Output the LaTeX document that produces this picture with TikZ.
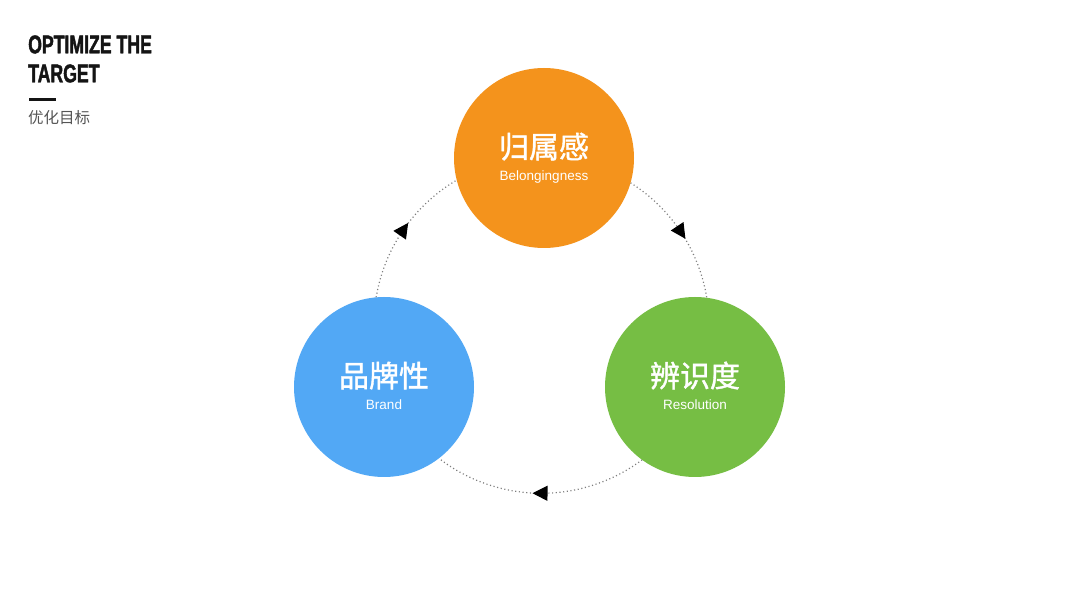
\documentclass[tikz,border=0pt]{standalone}
\usepackage{fontspec}
\setmainfont{Liberation Sans}
\newfontfamily\cjk{Noto Sans CJK SC}
\newfontfamily\cjkmed[FakeBold=1.3]{Noto Sans CJK SC}
\newfontfamily\titlefont[FakeStretch=0.69,FakeBold=1.6]{Liberation Sans Bold}
\usetikzlibrary{arrows.meta,decorations.markings,backgrounds}
\definecolor{cOrange}{RGB}{244,147,28}
\definecolor{cBlue}{RGB}{82,168,245}
\definecolor{cGreen}{RGB}{118,190,68}
\definecolor{cTitle}{RGB}{20,20,20}
\definecolor{cSub}{RGB}{85,85,85}
\definecolor{cDot}{RGB}{125,125,125}
\tikzset{
  bubble/.style={circle, minimum size=180pt, inner sep=0pt, outer sep=0pt, draw=none},
  zh/.style={anchor=base, text=white, inner sep=0pt, font=\cjkmed\fontsize{30}{30}\selectfont},
  en/.style={anchor=base, text=white, inner sep=0pt, font=\fontsize{13.5}{14}\selectfont},
  flow/.style={cDot, line width=1.2pt, dash pattern=on 1.1pt off 2.6pt,
    postaction={decorate},
    decoration={markings, mark=at position 0.5 with {\arrow[xshift=8pt]{Triangle[length=15pt,width=15pt,color=black]}}}},
  titletext/.style={anchor=base west, inner sep=0pt, text=cTitle, font=\titlefont\fontsize{25.6}{26}\selectfont},
}
\begin{document}
\begin{tikzpicture}[x=1pt,y=1pt]
\useasboundingbox (0,0) rectangle (1080,608);

% title
\node[titletext] (t1) at (28,554.7) {OPTIMIZE THE};
\node[titletext] (t2) at (28,525.7) {TARGET};
\draw[line width=2.5pt, cTitle] (29,508.3) -- (56,508.3);
\node[anchor=base west, inner sep=0pt, text=cSub, font=\cjk\fontsize{15.5}{16}\selectfont] (sub) at (28,484) {优化目标};

% circles
\node[bubble, fill=cOrange] (orange) at (544,450) {};
\node[bubble, fill=cBlue] (blue) at (384,221) {};
\node[bubble, fill=cGreen] (green) at (695,221) {};

\node[zh] (orangezh) at (544,450) {归属感};
\node[en] (orangeen) at (544,427.5) {Belongingness};
\node[zh] (bluezh) at (384,221) {品牌性};
\node[en] (blueen) at (384,198.5) {Brand};
\node[zh] (greenzh) at (695,221) {辨识度};
\node[en] (greenen) at (695,198.5) {Resolution};

% background and cycle arcs
\begin{scope}[on background layer]
\fill[white] (0,0) rectangle (1080,608);
\draw[flow] (orange.-16) arc[start angle=57.8, end angle=9.3, radius=168pt];
\draw[flow] (green.-126.4) arc[start angle=-53.2, end angle=-127.45, radius=168pt];
\draw[flow] (blue.95.5) arc[start angle=170.55, end angle=120.2, radius=168pt];
\end{scope}
\end{tikzpicture}
\end{document}
